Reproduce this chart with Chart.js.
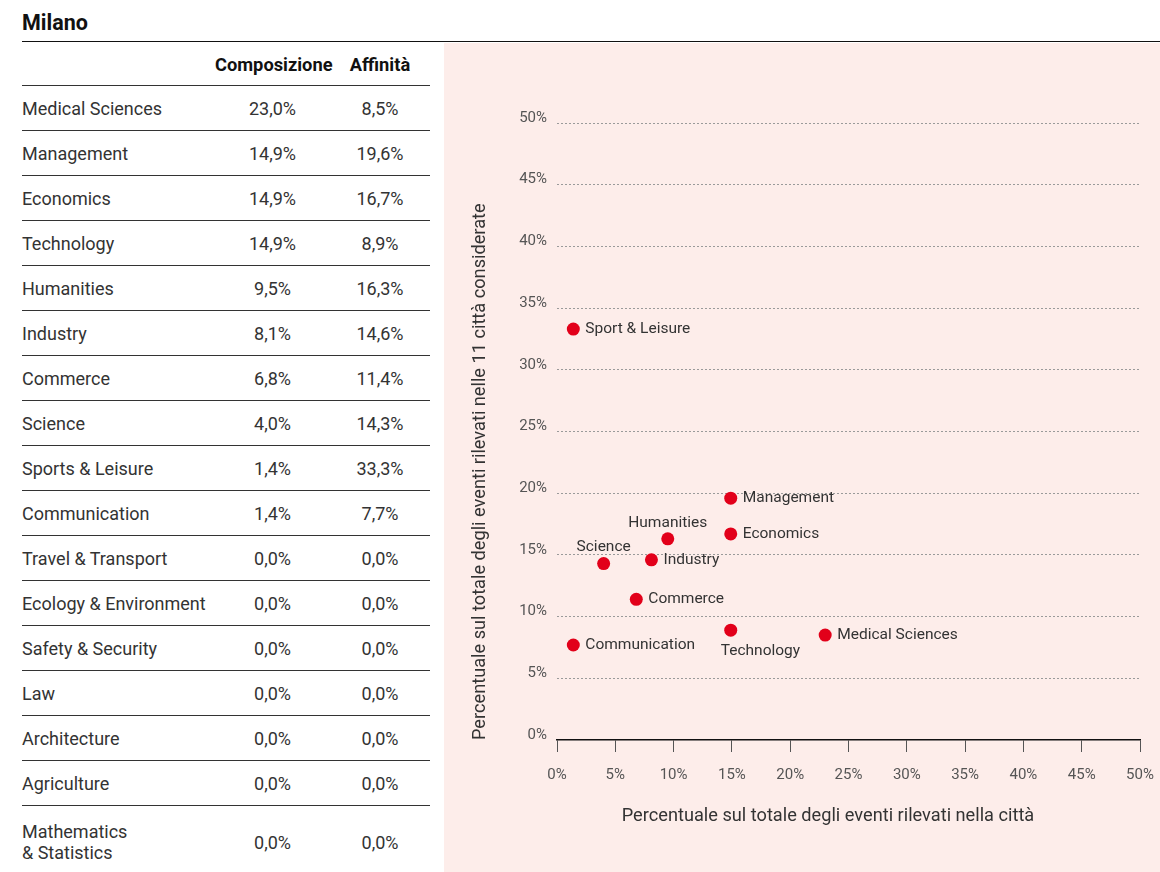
<!DOCTYPE html>
<html><head><meta charset="utf-8">
<script src="https://cdn.jsdelivr.net/npm/chart.js@4.4.1/dist/chart.umd.min.js"></script>
<style>
html,body{margin:0;padding:0;background:#fff;}
body{width:1160px;height:872px;position:relative;overflow:hidden;font-family:Roboto,"Noto Sans",sans-serif;}
#title{position:absolute;left:22px;top:10px;font-size:21.5px;font-weight:700;color:#111;line-height:26px;}
#rule{position:absolute;left:22px;right:0;top:41px;height:0;border-top:1.5px solid #111;}
#panel{position:absolute;left:444px;top:43px;width:716px;height:829px;background:#fdedea;}
#tbl{position:absolute;left:22px;top:43px;width:408px;}
.row{display:flex;align-items:center;height:44px;border-bottom:1px solid #333;color:#333;font-size:18px;}
.row.head{height:42px;color:#111;font-weight:700;font-size:18.3px;}
.row.last{height:72px;border-bottom:none;line-height:21px;}
.c1{width:193px;white-space:pre-line;}
.c2{width:115px;text-align:center;}
.c3{width:100px;text-align:center;}
#chartWrap{position:absolute;left:444px;top:43px;width:716px;height:829px;}
</style></head>
<body>
<div id="title">Milano</div>
<div id="rule"></div>
<div id="panel"></div>
<div id="tbl"></div>
<div id="chartWrap"><canvas id="c" width="716" height="829"></canvas></div>
<script>
// ---- data ----
const categories = ["Medical Sciences","Management","Economics","Technology","Humanities","Industry","Commerce","Science","Sports & Leisure","Communication","Travel & Transport","Ecology & Environment","Safety & Security","Law","Architecture","Agriculture","Mathematics\n& Statistics"];
const composizione = [23.0,14.9,14.9,14.9,9.5,8.1,6.8,4.0,1.4,1.4,0,0,0,0,0,0,0];
const affinita = [8.5,19.6,16.7,8.9,16.3,14.6,11.4,14.3,33.3,7.7,0,0,0,0,0,0,0];
const pointNames = ["Medical Sciences","Management","Economics","Technology","Humanities","Industry","Commerce","Science","Sport & Leisure","Communication"];
const axisTicks = [0,5,10,15,20,25,30,35,40,45,50];
const columnHeaders = ["Composizione","Affinità"];
const xTitle = "Percentuale sul totale degli eventi rilevati nella città";
const yTitle = "Percentuale sul totale degli eventi rilevati nelle 11 città considerate";

// label placement (style only)
const labelPlace = {
  "Humanities": {dx:0, dy:-12, align:"center", base:"alphabetic"},
  "Science": {dx:0, dy:-13, align:"center", base:"alphabetic"},
  "Technology": {dx:-10, dy:25, align:"left", base:"alphabetic"}
};

const fmt = v => v.toFixed(1).replace('.', ',') + '%';

// ---- table ----
const tbl = document.getElementById('tbl');
let html = '<div class="row head"><div class="c1"></div><div class="c2">'+columnHeaders[0]+'</div><div class="c3">'+columnHeaders[1]+'</div></div>';
categories.forEach((c,i)=>{
  const last = i===categories.length-1 ? ' last' : '';
  html += '<div class="row'+last+'"><div class="c1">'+c.replace(/&/g,'&amp;')+'</div><div class="c2">'+fmt(composizione[i])+'</div><div class="c3">'+fmt(affinita[i])+'</div></div>';
});
tbl.innerHTML = html;

// ---- chart ----
const points = pointNames.map((n,i)=>({x:composizione[i], y:affinita[i]}));
const tickFont = {family:"Roboto", size:15};

const pointLabelPlugin = {
  id:'pointLabels',
  afterDatasetsDraw(chart){
    const ctx = chart.ctx;
    const meta = chart.getDatasetMeta(0);
    ctx.save();
    ctx.font = '15.5px Roboto';
    ctx.fillStyle = '#333';
    meta.data.forEach((pt,i)=>{
      const name = pointNames[i];
      const p = labelPlace[name] || {dx:12, dy:0, align:'left', base:'middle'};
      ctx.textAlign = p.align; ctx.textBaseline = p.base;
      ctx.fillText(name, pt.x + p.dx, pt.y + p.dy);
    });
    ctx.restore();
  }
};
const xTitlePlugin = {
  id:'xTitle',
  afterDraw(chart){
    const ctx = chart.ctx, a = chart.chartArea;
    ctx.save();
    ctx.font = '18.2px Roboto';
    ctx.fillStyle = '#333';
    ctx.textAlign = 'center'; ctx.textBaseline = 'middle';
    ctx.fillText(xTitle, a.left + 271, a.bottom + 76);
    ctx.restore();
  }
};

new Chart(document.getElementById('c'), {
  type:'scatter',
  data:{datasets:[{data:points, backgroundColor:'#e2001a', borderWidth:0, pointRadius:6.5, pointHoverRadius:6.5}]},
  options:{
    responsive:false, animation:false, events:[],
    layout:{padding:{left:0,right:20,top:80,bottom:0}},
    plugins:{legend:{display:false}, tooltip:{enabled:false}},
    scales:{
      x:{type:'linear', min:0, max:50,
        afterBuildTicks:s=>{s.ticks = axisTicks.map(v=>({value:v}));},
        afterFit:s=>{s.height = 132; s.paddingLeft = 0; s.paddingRight = 0;},
        grid:{drawOnChartArea:false, drawTicks:true, tickLength:12, tickColor:'#555', color:'#555', lineWidth:1},
        border:{display:true, color:'#111', width:1.5},
        ticks:{padding:14, color:'#555', font:tickFont, maxRotation:0, callback:v=>v+'%'}
      },
      y:{type:'linear', min:0, max:50,
        afterBuildTicks:s=>{s.ticks = axisTicks.map(v=>({value:v}));},
        afterFit:s=>{s.width = 113; s.paddingTop = 0; s.paddingBottom = 0;},
        grid:{drawTicks:false, lineWidth:1, color:c=> c.tick && c.tick.value===0 ? 'rgba(0,0,0,0)' : '#9a9a9a'},
        border:{display:false, dash:[2,2]},
        ticks:{padding:10, labelOffset:-5, color:'#555', font:tickFont, callback:v=>v+'%'},
        title:{display:true, text:yTitle, align:'start', padding:{top:26, bottom:0}, color:'#333', font:{family:'Roboto', size:18.2}}
      }
    }
  },
  plugins:[pointLabelPlugin, xTitlePlugin]
});
</script>
</body></html>
